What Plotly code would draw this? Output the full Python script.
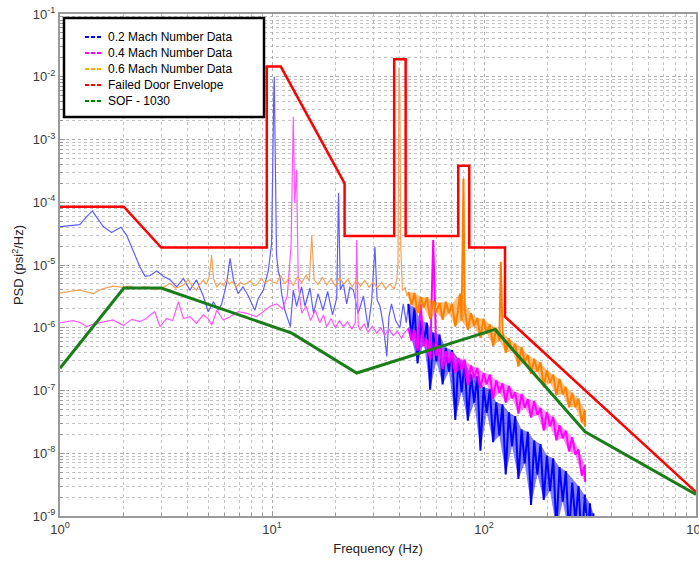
import plotly.graph_objects as go

# ---------------- data ----------------
red_freq = [1, 2, 3, 9.45, 9.45, 11, 22, 22, 37.7, 37.7, 42.7, 42.7, 75.6, 75.6, 85.2, 85.2, 125.6, 125.6, 1000]
red_psd = [8.5e-5, 8.5e-5, 1.9e-5, 1.9e-5, 1.45e-2, 1.45e-2, 2.0e-4, 2.9e-5, 2.9e-5, 1.9e-2, 1.9e-2, 2.9e-5,
           2.9e-5, 3.8e-4, 3.8e-4, 1.9e-5, 1.9e-5, 1.5e-6, 2.4e-9]

green_freq = [1, 2, 3, 12.4, 25.1, 112.7, 300, 1000]
green_psd = [2.26e-7, 4.3e-6, 4.3e-6, 8.2e-7, 1.9e-7, 9.4e-7, 2.2e-8, 2.2e-9]

band_freq = [44, 45.5, 47, 48.6, 50.3, 52, 53.8, 55.7, 57.6, 59.6, 61.7, 63.8, 66, 68.3, 70.7, 73.2, 75.7,
             78.4, 81.1, 83.9, 86.8, 89.9, 93, 96.2, 99.6, 103, 106.6, 110.4, 114.2, 118.2, 122.3, 126.6,
             131, 135.6, 140.4, 145.3, 150.4, 155.6, 161, 166.7, 172.5, 178.6, 184.8, 191.3, 198, 204.9,
             212, 219.5, 227.2, 235.1, 243.3, 251.8, 260.6, 269.8, 279.2, 289, 299]

blue_low_freq = [1.0, 1.12, 1.24, 1.33, 1.42, 1.5, 1.6, 1.75, 1.94, 2.06, 2.18, 2.38, 2.52, 2.66, 2.86, 3.07,
                 3.3, 3.55, 3.82, 4.1, 4.4, 4.74, 5.0, 5.29, 5.58, 5.79, 6.11, 6.34, 6.58, 6.92, 7.3, 7.73,
                 8.3, 8.6, 9.1, 9.6, 9.96, 10.1, 10.2, 10.25, 10.32, 10.4, 10.5, 10.7, 10.9, 11.1, 11.5,
                 12.2, 12.6, 13.06, 13.8, 14.3, 15.1, 15.7, 16.5, 17.4, 18.3, 19.3, 20.2, 20.6, 21.0, 21.7,
                 22.5, 23.3, 24.2, 25.5, 27.0, 28.4, 29.5, 30.6, 31.3, 32.3, 33.5, 34.8, 35.6, 36.6, 38.3,
                 40.1, 41.6, 43.0]
blue_low_psd = [4.1e-5, 4.2e-5, 4.4e-5, 5.8e-5, 7.3e-5, 5.6e-5, 4.1e-5, 3.3e-5, 4.0e-5, 3.0e-5, 1.85e-5,
                9.4e-6, 6.6e-6, 6.8e-6, 8.0e-6, 6.6e-6, 5.8e-6, 4.5e-6, 6.1e-6, 4.0e-6, 5.8e-6, 3.2e-6,
                1.8e-6, 2.6e-6, 1.9e-6, 2.4e-6, 5.1e-6, 1.28e-5, 5.8e-6, 3.5e-6, 4.5e-6, 3.2e-6, 1.9e-6,
                2.9e-6, 4.0e-6, 8.0e-6, 2.2e-5, 1.5e-3, 6e-3, 1.0e-2, 2e-3, 1e-4, 1.5e-5, 8e-6, 6.5e-6,
                3.5e-6, 1.9e-6, 1.04e-6, 4.0e-6, 2.2e-6, 4.5e-6, 2.2e-6, 4.3e-6, 1.7e-6, 3.5e-6, 1.9e-6,
                3.8e-6, 1.6e-6, 3.0e-6, 1.4e-4, 4.0e-6, 5.1e-6, 2.4e-6, 4.4e-6, 4.0e-6, 1.7e-6, 3.2e-6,
                1.0e-6, 2.6e-6, 1.96e-5, 2.8e-6, 2.2e-6, 1.1e-6, 3.5e-7, 1.5e-6, 2.4e-6, 1.3e-6, 1.0e-6,
                2.4e-6, 1.2e-6]
blue_band_psd = [2.4e-6, 6.8e-7, 2.1e-6, 2.7e-7, 1.3e-6, 5.9e-7, 1.2e-6, 1.03e-7, 8.4e-7, 2.9e-7, 7.8e-7,
                 1.25e-7, 4.8e-7, 2.0e-7, 4.4e-7, 3.4e-8, 3.2e-7, 9.4e-8, 2.9e-7, 3.3e-8, 1.8e-7, 6.4e-8,
                 1.7e-7, 1.1e-8, 1.13e-7, 4.4e-8, 1.06e-7, 1.5e-8, 6.5e-8, 1.9e-8, 6.0e-8, 4.6e-9, 4.5e-8,
                 1.3e-8, 3.9e-8, 3.9e-9, 2.4e-8, 6.9e-9, 2.2e-8, 1.5e-9, 1.6e-8, 4.6e-9, 1.4e-8, 1.8e-9,
                 9.2e-9, 2.5e-9, 8.3e-9, 6.2e-10, 6.0e-9, 1.7e-9, 5.2e-9, 5.3e-10, 3.4e-9, 8.2e-10, 3.0e-9,
                 3.2e-10, 2.2e-9]
blue_tail_freq = [309, 316, 323, 328, 333]
blue_tail_psd = [5e-10, 1.6e-9, 4e-10, 1.1e-9, 3e-10]

magenta_low_freq = [1.0, 1.155, 1.25, 1.34, 1.45, 1.6, 1.78, 1.99, 2.18, 2.38, 2.55, 2.66, 2.8, 2.96, 3.18,
                    3.4, 3.62, 3.82, 4.1, 4.4, 4.74, 5.0, 5.2, 5.49, 5.89, 6.34, 6.93, 7.6, 8.45, 9.09, 9.78,
                    10.55, 11.2, 11.8, 12.3, 12.6, 12.8, 13.06, 13.3, 13.8, 14.5, 15.2, 16.0, 16.8, 17.5,
                    18.1, 19.0, 19.9, 20.8, 21.7, 22.7, 23.8, 24.7, 25.1, 25.5, 26.0, 27.2, 28.4, 29.7, 31.2,
                    32.6, 34.0, 35.6, 37.3, 39.0, 40.8, 42.4]
magenta_low_psd = [1.2e-6, 1.3e-6, 1.2e-6, 1.04e-6, 1.15e-6, 1.25e-6, 1.33e-6, 1.08e-6, 1.36e-6, 1.25e-6,
                   1.4e-6, 1.6e-6, 1.8e-6, 1.04e-6, 1.4e-6, 1.3e-6, 2.6e-6, 1.4e-6, 1.5e-6, 1.18e-6, 1.6e-6,
                   1.4e-6, 1.1e-6, 1.9e-6, 1.33e-6, 1.5e-6, 1.8e-6, 1.7e-6, 1.5e-6, 1.8e-6, 2.2e-6, 2.4e-6,
                   2.0e-6, 3.2e-6, 2e-5, 2.3e-3, 1e-4, 3.3e-4, 5e-6, 1.7e-6, 2.2e-6, 1.3e-6, 1.9e-6, 1.2e-6,
                   1.6e-6, 1.04e-6, 1.4e-6, 1.0e-6, 1.3e-6, 1.04e-6, 1.25e-6, 9.5e-7, 1.2e-6, 2.5e-5, 1.1e-6,
                   9.2e-7, 1.15e-6, 8.5e-7, 1.05e-6, 8.2e-7, 1.0e-6, 7.6e-7, 9.5e-7, 7.5e-7, 8.8e-7, 6.8e-7,
                   8.5e-7]
magenta_band_psd = [9.8e-7, 6.2e-7, 9.1e-7, 4.3e-7, 2.4e-6, 5.1e-7, 6.5e-7, 3.1e-7, 2.5e-5, 3.6e-7, 5.2e-7,
                    2.2e-7, 4.2e-7, 2.8e-7, 4.1e-7, 1.9e-7, 3.3e-7, 2.2e-7, 3.1e-7, 1.23e-7, 2.5e-7, 1.6e-7,
                    2.3e-7, 1.1e-7, 1.9e-7, 1.26e-7, 1.8e-7, 7.4e-8, 1.45e-7, 9.2e-8, 1.3e-7, 6.4e-8, 1.19e-7,
                    7.5e-8, 9.4e-8, 4.3e-8, 8.8e-8, 5.3e-8, 7.3e-8, 3.7e-8, 6.8e-8, 4.1e-8, 5.3e-8, 2.3e-8,
                    4.5e-8, 2.7e-8, 3.8e-8, 1.6e-8, 2.8e-8, 1.73e-8, 2.3e-8, 1.07e-8, 1.8e-8, 9.5e-9, 1.15e-8,
                    4.4e-9, 6.5e-9]
magenta_tail_freq = [300]
magenta_tail_psd = [3.5e-9]

orange_low_freq = [1.0, 1.12, 1.24, 1.34, 1.44, 1.52, 1.6, 1.78, 1.99, 2.15, 2.3, 2.48, 2.66, 2.8, 2.96, 3.15,
                   3.3, 3.5, 3.68, 3.85, 4.03, 4.2, 4.4, 4.55, 4.74, 4.9, 5.05, 5.19, 5.3, 5.49, 5.7, 5.9,
                   6.1, 6.3, 6.5, 6.8, 7.1, 7.35, 7.6, 7.9, 8.2, 8.45, 8.7, 8.93, 9.2, 9.5, 9.78, 10.1, 10.5,
                   11.0, 11.5, 12.0, 12.6, 13.2, 13.8, 14.5, 15.0, 15.4, 15.8, 16.5, 17.3, 18.1, 19.0, 19.9,
                   20.8, 21.8, 22.8, 23.9, 25.0, 26.2, 27.4, 28.7, 30.0, 31.4, 32.9, 34.4, 36.0, 37.7, 38.8,
                   39.3, 39.7, 40.1, 40.5, 41.2, 42.5, 43.3]
orange_low_psd = [3.6e-6, 3.8e-6, 4.0e-6, 3.7e-6, 3.5e-6, 3.9e-6, 4.2e-6, 4.6e-6, 4.4e-6, 4.6e-6, 4.2e-6,
                  4.5e-6, 4.4e-6, 4.0e-6, 4.2e-6, 4.6e-6, 5.1e-6, 4.3e-6, 4.5e-6, 4.9e-6, 5.8e-6, 4.6e-6,
                  4.0e-6, 4.8e-6, 5.8e-6, 4.9e-6, 6.5e-6, 1.44e-5, 6.0e-6, 4.5e-6, 5.2e-6, 4.7e-6, 5.8e-6,
                  5.0e-6, 5.4e-6, 4.5e-6, 5.3e-6, 4.9e-6, 5.1e-6, 5.6e-6, 4.7e-6, 4.8e-6, 5.4e-6, 6.1e-6,
                  5.2e-6, 5.6e-6, 5.8e-6, 5.3e-6, 5.1e-6, 6.8e-6, 5.0e-6, 6.2e-6, 4.7e-6, 6.5e-6, 5.2e-6,
                  6.9e-6, 5.5e-6, 3.0e-5, 5.8e-6, 4.9e-6, 6.4e-6, 4.8e-6, 6.0e-6, 4.6e-6, 6.3e-6, 4.9e-6,
                  5.9e-6, 4.5e-6, 5.8e-6, 4.6e-6, 5.7e-6, 4.4e-6, 5.4e-6, 4.3e-6, 5.3e-6, 4.2e-6, 5.0e-6,
                  4.1e-6, 6.0e-6, 1e-5, 1.4e-2, 5e-3, 2e-5, 3.9e-6, 4.4e-6, 3.2e-6]
orange_band_freq = [44, 45.5, 47, 48.6, 50.3, 52, 53.8, 55.7, 57.6, 59.6, 61.7, 63.8, 66, 68.3, 70.7, 73.2,
                    75.7, 77.0, 78.4, 80.0, 81.1, 83.9, 86.8, 89.9, 93, 96.2, 99.6, 103, 106.6, 110.4, 114.2,
                    118.2, 120.0, 122.3, 126.6, 131, 135.6, 140.4, 145.3, 150.4, 155.6, 161, 166.7, 172.5,
                    178.6, 184.8, 191.3, 198, 204.9, 212, 219.5, 227.2, 235.1, 243.3, 251.8, 260.6, 269.8,
                    279.2, 289, 299, 300]
orange_band_psd = [3.7e-6, 2.3e-6, 3.6e-6, 1.7e-6, 3.1e-6, 2.1e-6, 3.05e-6, 1.37e-6, 2.7e-6, 1.75e-6,
                   2.5e-6, 1.34e-6, 2.6e-6, 1.7e-6, 2.4e-6, 1.04e-6, 2.06e-6, 3.5e-6, 1.3e-6, 2.4e-4, 2.0e-6,
                   9.3e-7, 1.7e-6, 1.07e-6, 1.43e-6, 6.9e-7, 1.39e-6, 8.2e-7, 1.13e-6, 5.1e-7, 1.0e-6,
                   6.2e-7, 1.13e-5, 9.0e-7, 4.0e-7, 6.8e-7, 4.3e-7, 5.6e-7, 2.4e-7, 4.9e-7, 2.8e-7, 3.7e-7,
                   1.85e-7, 3.2e-7, 2.0e-7, 2.8e-7, 1.13e-7, 2.1e-7, 1.32e-7, 1.8e-7, 8.4e-8, 1.53e-7,
                   8.7e-8, 1.14e-7, 5.4e-8, 9.2e-8, 5.4e-8, 7.4e-8, 3.1e-8, 4.9e-8, 2.65e-8]

x_tick_vals = [1, 10, 100, 1000]
x_tick_text = ["10<sup>0</sup>", "10<sup>1</sup>", "10<sup>2</sup>", "10<sup>3</sup>"]
y_tick_vals = [1e-9, 1e-8, 1e-7, 1e-6, 1e-5, 1e-4, 1e-3, 1e-2, 1e-1]
y_tick_text = ["10<sup>-9</sup>", "10<sup>-8</sup>", "10<sup>-7</sup>", "10<sup>-6</sup>", "10<sup>-5</sup>",
               "10<sup>-4</sup>", "10<sup>-3</sup>", "10<sup>-2</sup>", "10<sup>-1</sup>"]

legend_names = ["0.2 Mach Number Data", "0.4 Mach Number Data", "0.6 Mach Number Data",
                "Failed Door Envelope", "SOF - 1030"]
legend_colors = ["#0000ff", "#ff00ff", "#ffaa00", "#ff0000", "#008000"]

# ---------------- figure ----------------
W, H = 699, 561
ML, MR, MT, MB = 60, 3, 14, 45
PW, PH = W - ML - MR, H - MT - MB

fig = go.Figure()


def add_line(x, y, color, width, name=None):
    fig.add_trace(go.Scatter(x=x, y=y, mode="lines", showlegend=False, hoverinfo="skip", name=name,
                             line=dict(color=color, width=width)))


def add_band_fill(x, y, fillcolor, name=None):
    """Shade between the local peaks and local dips of a dense noisy PSD segment
    (isolated tonal spikes are left to the line itself)."""
    n = len(y)
    ux, uy, lx, ly = [], [], [], []
    for i in range(n):
        prev_v = y[i - 1] if i > 0 else y[i]
        next_v = y[i + 1] if i < n - 1 else y[i]
        if y[i] >= prev_v and y[i] >= next_v and y[i] <= 4 * max(prev_v, next_v):
            ux.append(x[i]); uy.append(y[i])
        if y[i] <= prev_v and y[i] <= next_v:
            lx.append(x[i]); ly.append(y[i])
    fig.add_trace(go.Scatter(x=ux + lx[::-1], y=uy + ly[::-1], mode="lines", fill="toself",
                             fillcolor=fillcolor, line=dict(width=0), showlegend=False,
                             hoverinfo="skip", name=name))


# blue (0.2 Mach)
add_line(blue_low_freq + band_freq[:1], blue_low_psd + blue_band_psd[:1], "#5e5eff", 1.2, legend_names[0])
add_band_fill(band_freq + blue_tail_freq, blue_band_psd + blue_tail_psd, "rgba(0,0,255,0.5)", legend_names[0])
add_line(band_freq + blue_tail_freq, blue_band_psd + blue_tail_psd, "#0000ff", 2.0, legend_names[0])
# magenta (0.4 Mach)
add_line(magenta_low_freq + band_freq[:1], magenta_low_psd + magenta_band_psd[:1], "#ff55ff", 1.2, legend_names[1])
add_band_fill(band_freq + magenta_tail_freq, magenta_band_psd + magenta_tail_psd, "rgba(255,0,255,0.45)",
              legend_names[1])
add_line(band_freq + magenta_tail_freq, magenta_band_psd + magenta_tail_psd, "#ff00ff", 2.0, legend_names[1])
# orange (0.6 Mach)
add_line(orange_low_freq + orange_band_freq[:1], orange_low_psd + orange_band_psd[:1], "#f3a35a", 1.2, legend_names[2])
add_band_fill(orange_band_freq, orange_band_psd, "rgba(255,128,0,0.5)", legend_names[2])
add_line(orange_band_freq, orange_band_psd, "#ff8000", 2.0, legend_names[2])
# envelopes
add_line(red_freq, red_psd, "#ff0000", 2.5, legend_names[3])
add_line(green_freq, green_psd, "#1a7d1a", 3.0, legend_names[4])

grid_col = "#c4c4c4"
tfont = dict(family="Liberation Sans, Arial", size=13, color="#3a3a3a")
axis_common = dict(
    type="log", showline=True, linecolor="#9a9a9a", linewidth=2, mirror=True,
    ticks="inside", ticklen=5, tickcolor="#9a9a9a", automargin=False,
    showgrid=True, gridcolor="#b0b0b0", griddash="dot", gridwidth=1,
    tickfont=tfont, zeroline=False, ticklabeloverflow="allow",
    minor=dict(dtick="D1", ticks="inside", ticklen=3, tickcolor="#9a9a9a",
               showgrid=True, gridcolor=grid_col, griddash="dot", gridwidth=1),
)

fig.update_xaxes(range=[0, 3], tickmode="array", tickvals=x_tick_vals, ticktext=x_tick_text,
                 title=dict(text="Frequency (Hz)", font=dict(family="Liberation Sans, Arial", size=13,
                                                             color="#222222"), standoff=8),
                 **axis_common)
fig.update_yaxes(range=[-9, -1], tickmode="array", tickvals=y_tick_vals, ticktext=y_tick_text,
                 title=dict(text="PSD (psi<sup>2</sup>/Hz)", font=dict(family="Liberation Sans, Arial", size=13,
                                                                        color="#222222"), standoff=6),
                 **axis_common)


# ---- legend box drawn like the reference (dashed samples, tight rows) ----
def px(x):
    return (x - ML) / PW


def py(y):
    return (H - MB - y) / PH


shapes = [dict(type="rect", xref="paper", yref="paper", x0=px(64), x1=px(264), y0=py(117), y1=py(18),
               line=dict(color="black", width=2.5), fillcolor="white", layer="above")]
annotations = []
row_y = [37, 53, 69, 85, 101]
for name, col, ry in zip(legend_names, legend_colors, row_y):
    shapes.append(dict(type="line", xref="paper", yref="paper", x0=px(85), x1=px(102), y0=py(ry), y1=py(ry),
                       line=dict(color=col, width=2, dash="4px,2px"), layer="above"))
    annotations.append(dict(xref="paper", yref="paper", x=px(106), y=py(ry), text=name, showarrow=False,
                            xanchor="left", yanchor="middle",
                            font=dict(family="Liberation Sans, Arial", size=12, color="black")))

fig.update_layout(
    width=W, height=H,
    margin=dict(l=ML, r=MR, t=MT, b=MB),
    paper_bgcolor="white", plot_bgcolor="white",
    showlegend=False,
    shapes=shapes, annotations=annotations,
)

fig.write_html(
    "out.html",
    config={"displayModeBar": False},
    post_script="document.body.style.margin='0';document.body.style.overflow='hidden';"
                "document.documentElement.style.overflow='hidden';",
)
